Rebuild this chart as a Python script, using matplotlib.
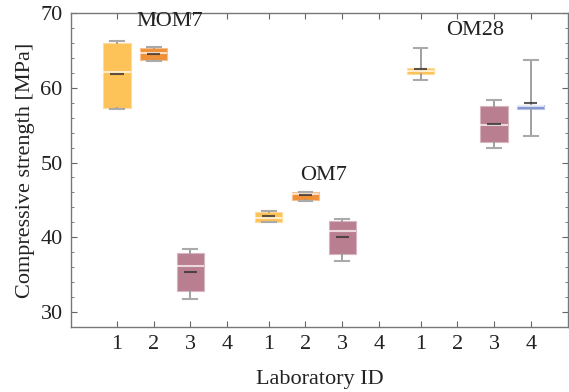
import matplotlib.pyplot as plt
import matplotlib.colors as mcolors
import numpy as np

# lab colours (1..4)
lab_colors = ['#fdbf4f', '#f08a2e', '#b5788a', '#7b8fd0']
tick_labels = ['1', '2', '3', '4']
groups = ['MOM7', 'OM7', 'OM28']

# per group, per lab: whisker low, q1, median, q3, whisker high, mean (NaN = no data)
mom7_low = [57.1, 63.6, 31.8, np.nan]
mom7_q1 = [57.3, 63.7, 32.8, np.nan]
mom7_med = [62.1, 64.7, 36.2, np.nan]
mom7_q3 = [66.0, 65.3, 37.9, np.nan]
mom7_high = [66.2, 65.4, 38.4, np.nan]
mom7_mean = [61.8, 64.5, 35.4, np.nan]

om7_low = [42.0, 44.8, 36.8, np.nan]
om7_q1 = [42.1, 45.0, 37.7, np.nan]
om7_med = [42.6, 45.8, 40.9, np.nan]
om7_q3 = [43.4, 46.0, 42.2, np.nan]
om7_high = [43.5, 46.0, 42.4, np.nan]
om7_mean = [42.8, 45.6, 40.0, np.nan]

om28_low = [61.1, np.nan, 52.0, 53.5]
om28_q1 = [61.9, np.nan, 52.7, 57.2]
om28_med = [62.2, np.nan, 55.0, 57.6]
om28_q3 = [62.6, np.nan, 57.6, 57.7]
om28_high = [65.3, np.nan, 58.4, 63.7]
om28_mean = [62.5, np.nan, 55.1, 58.0]

group_offsets = [0, 4.13, 8.26]
label_pos = [(2.44, 68.86), (6.63, 48.26), (10.75, 67.6)]

data = [
    (mom7_low, mom7_q1, mom7_med, mom7_q3, mom7_high, mom7_mean),
    (om7_low, om7_q1, om7_med, om7_q3, om7_high, om7_mean),
    (om28_low, om28_q1, om28_med, om28_q3, om28_high, om28_mean),
]


def lighten(c, f=0.5):
    rgb = np.array(mcolors.to_rgb(c))
    return tuple(rgb + (1 - rgb) * f)


plt.rcParams['font.family'] = ['Liberation Serif', 'DejaVu Serif']
plt.rcParams['mathtext.fontset'] = 'stix'

fig = plt.figure(figsize=(5.69, 3.92), dpi=100)
ax = fig.add_axes([0.1248, 0.1658, 0.8732, 0.801])

box_w = 0.74
xticks = []
for g, (low, q1, med, q3, high, mean) in enumerate(data):
    for i in range(4):
        pos = group_offsets[g] + i + 1
        xticks.append(pos)
        if np.isnan(med[i]):
            continue
        stats = [{'whislo': low[i], 'q1': q1[i], 'med': med[i], 'q3': q3[i],
                  'whishi': high[i], 'fliers': []}]
        ax.bxp(stats, positions=[pos], widths=box_w, capwidths=0.38,
               patch_artist=True, showfliers=False,
               boxprops=dict(facecolor=lab_colors[i],
                             edgecolor=lighten(lab_colors[i], 0.45),
                             linewidth=0.8, alpha=0.95),
               medianprops=dict(color='white', linewidth=1.5, alpha=0.7),
               whiskerprops=dict(color='#999999', linewidth=1.3),
               capprops=dict(color='#aaaaaa', linewidth=1.5),
               manage_ticks=False, zorder=2)
        ax.hlines(mean[i], pos - 0.18, pos + 0.18, color='#333333',
                  linewidth=1.5, alpha=0.8, zorder=4)

for name, (lx, ly) in zip(groups, label_pos):
    ax.text(lx, ly, name, ha='center', va='center', fontsize=16, color='#222222')

ax.set_xlim(-0.251, 13.27)
ax.set_ylim(28, 70)
ax.set_xticks(xticks)
ax.set_xticklabels(tick_labels * 3)
ax.set_yticks([30, 40, 50, 60, 70])
ax.set_yticks(np.arange(28, 71, 2), minor=True)
ax.tick_params(direction='in', top=True, right=True, labelsize=16,
               colors='#666666', labelcolor='#222222', length=4, pad=6)
ax.tick_params(which='minor', direction='in', right=True, length=2.5,
               colors='#666666')
ax.tick_params(axis='x', which='minor', bottom=False, top=False)
for s in ax.spines.values():
    s.set_color('#777777')
    s.set_linewidth(1.0)

ax.set_xlabel('Laboratory ID', fontsize=16, color='#222222', labelpad=11)
ax.set_ylabel('Compressive strength [MPa]', fontsize=16, color='#222222', labelpad=4)

fig.savefig('out.png', dpi=100)
